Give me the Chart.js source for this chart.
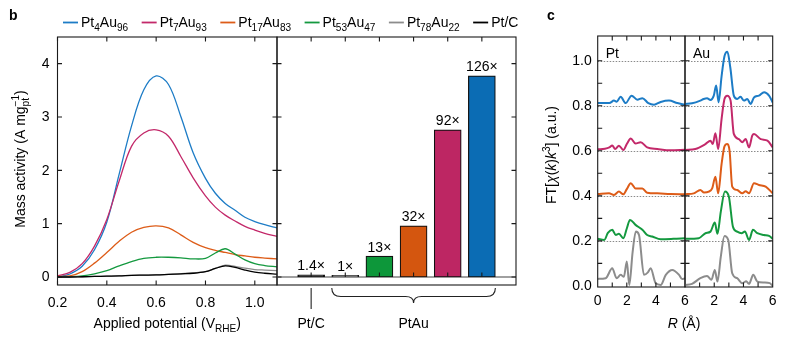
<!DOCTYPE html>
<html>
<head>
<meta charset="utf-8">
<script src="https://cdn.jsdelivr.net/npm/chart.js@4.4.1/dist/chart.umd.min.js"></script>
<style>
  body { margin: 0; background: #fff; }
  #wrap { position: relative; width: 790px; height: 345px; }
  #wrap canvas { position: absolute; left: 0; top: 0; }
</style>
</head>
<body>
<div id="wrap">
  <canvas id="cvMass" width="790" height="345"></canvas>
  <canvas id="cvBars" width="790" height="345"></canvas>
  <canvas id="cvPt" width="790" height="345"></canvas>
  <canvas id="cvAu" width="790" height="345"></canvas>
</div>
<script>
// ---- data ----
const seriesNames = ['Pt4Au96', 'Pt7Au93', 'Pt17Au83', 'Pt53Au47', 'Pt78Au22', 'Pt/C'];
const seriesColors = ['#1d7cc6', '#c3296a', '#dd5c18', '#14993f', '#8c8c8c', '#000000'];

// mass activity vs applied potential (V_RHE)
const potential = [0.2, 0.25, 0.3, 0.35, 0.4, 0.45, 0.5, 0.55, 0.6, 0.65, 0.7, 0.75, 0.8, 0.84, 0.88, 0.92, 0.96, 1.0, 1.04, 1.09];
const massPt4Au96 = [0.0, 0.056, 0.2, 0.51, 1.03, 1.93, 2.83, 3.51, 3.77, 3.61, 3.01, 2.33, 1.85, 1.57, 1.38, 1.25, 1.12, 1.04, 0.98, 0.92];
const massPt7Au93 = [0.02, 0.087, 0.25, 0.58, 1.08, 1.8, 2.45, 2.7, 2.76, 2.64, 2.26, 1.86, 1.52, 1.31, 1.16, 1.05, 0.95, 0.88, 0.82, 0.76];
const massPt17Au83 = [0.01, 0.02, 0.1, 0.26, 0.46, 0.67, 0.84, 0.93, 0.96, 0.92, 0.79, 0.65, 0.55, 0.5, 0.46, 0.42, 0.395, 0.37, 0.355, 0.34];
const massPt53Au47 = [0.0, 0.005, 0.02, 0.06, 0.12, 0.21, 0.29, 0.35, 0.37, 0.37, 0.36, 0.34, 0.35, 0.45, 0.53, 0.43, 0.32, 0.25, 0.215, 0.19];
const massPt78Au22 = [0.0, 0.0, 0.005, 0.01, 0.015, 0.02, 0.03, 0.035, 0.04, 0.05, 0.06, 0.075, 0.1, 0.16, 0.22, 0.2, 0.165, 0.14, 0.13, 0.12];
const massPtC = [0.0, 0.0, 0.005, 0.01, 0.015, 0.02, 0.03, 0.035, 0.04, 0.05, 0.06, 0.07, 0.1, 0.16, 0.21, 0.18, 0.13, 0.09, 0.07, 0.055];
const potentialTicks = [0.2, 0.4, 0.6, 0.8, 1.0];
const activityTicks = [0, 1, 2, 3, 4];

// peak mass activity per catalyst and enhancement factors
const barOrder = ['Pt/C', 'Pt78Au22', 'Pt53Au47', 'Pt17Au83', 'Pt7Au93', 'Pt4Au96'];
const barValues = [0.042, 0.03, 0.39, 0.96, 2.76, 3.77];
const barLabels = ['1.4×', '1×', '13×', '32×', '92×', '126×'];
const barColors = ['#000000', '#8c8c8c', '#0d973a', '#d4560f', '#bd2663', '#0b6cb4'];

// Fourier-transformed EXAFS, [R (Å), FT magnitude + offset]
const ptEdgePt4Au96 = [[0, 0.812], [0.8, 0.812], [1.12, 0.823], [1.3, 0.818], [1.58, 0.84], [1.92, 0.812], [2.33, 0.845], [2.72, 0.827], [3.07, 0.834], [3.48, 0.812], [3.87, 0.805], [4.33, 0.817], [4.9, 0.823], [5.47, 0.812], [6.0, 0.805]];
const ptEdgePt7Au93 = [[0, 0.607], [0.5, 0.609], [0.8, 0.615], [1.0, 0.624], [1.2, 0.608], [1.46, 0.623], [1.76, 0.604], [2.0, 0.63], [2.27, 0.655], [2.6, 0.632], [2.95, 0.638], [3.4, 0.615], [4.1, 0.608], [5.0, 0.602], [6.0, 0.605]];
const ptEdgePt17Au83 = [[0, 0.408], [0.78, 0.411], [1.12, 0.404], [1.46, 0.419], [1.76, 0.407], [2.0, 0.43], [2.27, 0.456], [2.6, 0.433], [3.07, 0.433], [3.4, 0.414], [4.1, 0.411], [5.0, 0.408], [6.0, 0.407]];
const ptEdgePt53Au47 = [[0, 0.209], [0.45, 0.204], [0.7, 0.235], [1.0, 0.249], [1.24, 0.226], [1.46, 0.231], [1.76, 0.212], [2.0, 0.255], [2.22, 0.293], [2.6, 0.271], [3.07, 0.249], [3.4, 0.226], [3.75, 0.219], [4.33, 0.207], [5.2, 0.209], [6.0, 0.212]];
const ptEdgePt78Au22 = [[0, 0.031], [0.55, 0.034], [1.0, 0.078], [1.3, 0.034], [1.58, 0.049], [1.8, 0.04], [2.0, 0.108], [2.17, 0.004], [2.4, 0.15], [2.62, 0.241], [2.84, 0.226], [3.18, 0.049], [3.45, 0.06], [3.64, 0.078], [3.98, 0.012], [4.33, 0.004], [4.68, 0.049], [5.13, 0.071], [5.59, 0.049], [5.8, 0.03], [6.0, 0.034]];

const auEdgePt4Au96 = [[0, 0.808], [0.48, 0.811], [1.05, 0.823], [1.28, 0.83], [1.51, 0.833], [1.74, 0.826], [1.97, 0.845], [2.13, 0.89], [2.3, 0.815], [2.5, 0.93], [2.7, 1.02], [2.9, 1.04], [3.1, 0.97], [3.34, 0.845], [3.57, 0.83], [3.8, 0.84], [4.03, 0.823], [4.26, 0.83], [4.49, 0.808], [4.72, 0.837], [5.06, 0.845], [5.41, 0.86], [5.75, 0.845], [6.0, 0.815]];
const auEdgePt7Au93 = [[0, 0.604], [0.71, 0.608], [1.4, 0.63], [1.74, 0.645], [1.9, 0.63], [2.08, 0.678], [2.27, 0.608], [2.5, 0.74], [2.7, 0.83], [2.89, 0.845], [3.12, 0.823], [3.34, 0.675], [3.69, 0.652], [3.92, 0.638], [4.15, 0.652], [4.38, 0.615], [4.6, 0.667], [4.72, 0.675], [5.18, 0.652], [5.64, 0.645], [6.0, 0.615]];
const auEdgePt17Au83 = [[0, 0.407], [0.6, 0.411], [1.05, 0.426], [1.3, 0.415], [1.63, 0.419], [1.86, 0.433], [2.08, 0.485], [2.27, 0.411], [2.5, 0.54], [2.7, 0.62], [2.87, 0.63], [3.05, 0.6], [3.23, 0.441], [3.57, 0.426], [3.92, 0.411], [4.15, 0.42], [4.38, 0.411], [4.72, 0.456], [5.06, 0.448], [5.52, 0.441], [6.0, 0.411]];
const auEdgePt53Au47 = [[0, 0.209], [0.94, 0.212], [1.4, 0.234], [1.74, 0.241], [2.04, 0.281], [2.22, 0.231], [2.45, 0.33], [2.73, 0.419], [3.0, 0.397], [3.28, 0.263], [3.57, 0.241], [3.87, 0.234], [4.1, 0.241], [4.38, 0.204], [4.65, 0.249], [4.95, 0.234], [5.4, 0.226], [5.75, 0.222], [6.0, 0.209]];
const auEdgePt78Au22 = [[0, 0.004], [0.48, 0.009], [1.05, 0.034], [1.51, 0.044], [1.81, 0.027], [2.04, 0.071], [2.22, 0.019], [2.45, 0.13], [2.7, 0.222], [2.96, 0.204], [3.23, 0.056], [3.57, 0.034], [3.92, 0.012], [4.19, 0.02], [4.38, 0.009], [4.67, 0.049], [4.95, 0.019], [5.4, 0.015], [5.8, 0.012], [6.0, 0.0]];

const ftLevels = [0.2, 0.4, 0.6, 0.8, 1.0];
const ftTicks = [0.1, 0.2, 0.3, 0.4, 0.5, 0.6, 0.7, 0.8, 0.9, 1.0];
const ftLabels = ['0.0', '0.2', '0.4', '0.6', '0.8', '1.0'];
const distTicks = [1, 2, 3, 4, 5];

// ---- layout ----
const W = 790, H = 345;
const FONT = '"Liberation Sans", Arial, Helvetica, sans-serif';
const AXIS = '#1a1a1a';
const TICK = 4.5;
const FS = 14;
const boxMass = [57.5, 37, 277, 285];
const boxBars = [277, 37, 516, 285];
const boxPt = [597.7, 36, 685, 287];
const boxAu = [685, 36, 772.7, 287];

Chart.defaults.font.family = FONT;

function pad(b) {
    return { left: b[0], top: b[1], right: W - b[2], bottom: H - b[3] };
}

// "Pt4Au96" -> text parts with subscripted digits
function formulaParts(s) {
    return s.match(/\d+|\D+/g).map(t => /\d/.test(t) ? [t, 'sub'] : [t]);
}

function fontFor(style, size) {
    const small = style === 'sub' || style === 'sup' || style === 'sub0';
    const sz = small ? size * 0.72 : size;
    const it = style === 'i' ? 'italic ' : '';
    return `${it}${sz}px ${FONT}`;
}

function richWidth(ctx, parts, size) {
    let w = 0;
    parts.forEach(([t, st]) => {
        ctx.font = fontFor(st, size);
        if (st !== 'sub0') w += ctx.measureText(t).width;
    });
    return w;
}

// draws text runs with sub/superscripts; y is the baseline
function drawRich(ctx, parts, x, y, size, align) {
    const w = richWidth(ctx, parts, size);
    let cx = align === 'center' ? x - w / 2 : align === 'right' ? x - w : x;
    ctx.textAlign = 'left';
    ctx.textBaseline = 'alphabetic';
    parts.forEach(([t, st]) => {
        ctx.font = fontFor(st, size);
        let dy = 0;
        if (st === 'sub' || st === 'sub0') dy = size * 0.3;
        if (st === 'sup') dy = -size * 0.4;
        ctx.fillText(t, cx, y + dy);
        if (st !== 'sub0') cx += ctx.measureText(t).width;
    });
}

function drawRotated(ctx, parts, x, y, size) {
    ctx.save();
    ctx.translate(x, y);
    ctx.rotate(-Math.PI / 2);
    drawRich(ctx, parts, 0, 0, size, 'center');
    ctx.restore();
}

function strokeFrame(ctx, a) {
    ctx.strokeStyle = AXIS;
    ctx.lineWidth = 1.1;
    ctx.strokeRect(a.left, a.top, a.right - a.left, a.bottom - a.top);
}

function baseOptions(box, xScale, yScale) {
    return {
        responsive: false,
        animation: false,
        events: [],
        layout: { padding: pad(box) },
        plugins: { legend: { display: false }, tooltip: { enabled: false } },
        scales: {
            x: Object.assign({ display: false }, xScale),
            y: Object.assign({ display: false }, yScale)
        }
    };
}

// ---- panel b, left: mass activity curves ----
const massSeries = [massPt4Au96, massPt7Au93, massPt17Au83, massPt53Au47, massPt78Au22, massPtC];

const massDecor = {
    id: 'massDecor',
    afterDraw(chart) {
        const { ctx, chartArea: a, scales: { x, y } } = chart;
        ctx.save();
        strokeFrame(ctx, a);
        ctx.beginPath();
        potentialTicks.forEach(v => {
            const px = x.getPixelForValue(v);
            ctx.moveTo(px, a.top); ctx.lineTo(px, a.top + TICK);
            ctx.moveTo(px, a.bottom); ctx.lineTo(px, a.bottom - TICK);
        });
        activityTicks.forEach(v => {
            const py = y.getPixelForValue(v);
            ctx.moveTo(a.left, py); ctx.lineTo(a.left + TICK, py);
            ctx.moveTo(a.right, py); ctx.lineTo(a.right - TICK, py);
        });
        ctx.stroke();

        ctx.fillStyle = '#000';
        ctx.font = `${FS}px ${FONT}`;
        ctx.textAlign = 'right';
        ctx.textBaseline = 'middle';
        activityTicks.forEach(v => ctx.fillText(String(v), a.left - 8, y.getPixelForValue(v) + 0.5));
        ctx.textAlign = 'center';
        ctx.textBaseline = 'alphabetic';
        potentialTicks.forEach(v => ctx.fillText(v.toFixed(1), x.getPixelForValue(v), 307));

        drawRich(ctx, [['Applied potential (V'], ['RHE', 'sub'], [')']], (a.left + a.right) / 2, 328, FS, 'center');
        drawRotated(ctx, [['Mass activity (A mg'], ['pt', 'sub0'], ['\u22121', 'sup'], [')']], 25, 159, FS);

        // panel letter and legend
        ctx.font = `bold ${FS}px ${FONT}`;
        ctx.textAlign = 'left';
        ctx.fillText('b', 9, 20);
        let lx = 63;
        seriesNames.forEach((name, i) => {
            ctx.strokeStyle = seriesColors[i];
            ctx.lineWidth = 1.8;
            ctx.beginPath();
            ctx.moveTo(lx, 22.5); ctx.lineTo(lx + 15, 22.5);
            ctx.stroke();
            const parts = formulaParts(name);
            ctx.fillStyle = '#000';
            drawRich(ctx, parts, lx + 18, 27, FS, 'left');
            lx += 18 + richWidth(ctx, parts, FS) + 13.5;
        });
        ctx.restore();
    }
};

new Chart(document.getElementById('cvMass'), {
    type: 'line',
    data: {
        datasets: massSeries.map((vals, i) => ({
            label: seriesNames[i],
            data: potential.map((p, k) => ({ x: p, y: vals[k] })),
            borderColor: seriesColors[i],
            borderWidth: 1.3,
            pointRadius: 0,
            tension: 0.35,
            fill: false
        })).reverse()
    },
    options: baseOptions(boxMass, { type: 'linear', min: 0.2, max: 1.09 }, { min: -0.15, max: 4.5 }),
    plugins: [massDecor]
});

// ---- panel b, right: peak activity bars ----
const barsDecor = {
    id: 'barsDecor',
    beforeDatasetsDraw(chart) {
        const { ctx, chartArea: a, scales: { y } } = chart;
        const y0 = y.getPixelForValue(0);
        ctx.save();
        ctx.strokeStyle = '#a0a0a0';
        ctx.lineWidth = 2;
        ctx.beginPath();
        ctx.moveTo(a.left, y0); ctx.lineTo(a.right, y0);
        ctx.stroke();
        ctx.restore();
    },
    afterDraw(chart) {
        const { ctx, chartArea: a, scales: { x, y } } = chart;
        const meta = chart.getDatasetMeta(0);
        const y0 = y.getPixelForValue(0);
        ctx.save();
        strokeFrame(ctx, a);
        ctx.beginPath();
        activityTicks.forEach(v => {
            const py = y.getPixelForValue(v);
            ctx.moveTo(a.left, py); ctx.lineTo(a.left + TICK, py);
            ctx.moveTo(a.right, py); ctx.lineTo(a.right - TICK, py);
        });
        barOrder.forEach((_, i) => {
            const px = x.getPixelForValue(i + 1);
            ctx.moveTo(px, a.top); ctx.lineTo(px, a.top + TICK);
            ctx.moveTo(px, y0); ctx.lineTo(px, y0 - TICK);
        });
        ctx.stroke();

        // enhancement factor above each bar
        ctx.fillStyle = '#000';
        ctx.font = `${FS}px ${FONT}`;
        ctx.textAlign = 'center';
        ctx.textBaseline = 'alphabetic';
        barLabels.forEach((t, i) => {
            const el = meta.data[i + 1];
            ctx.fillText(t, el.x, el.y - 4.5);
        });

        // group markers below the axis
        const xc = x.getPixelForValue(1);
        ctx.strokeStyle = '#222';
        ctx.lineWidth = 1.1;
        ctx.beginPath();
        ctx.moveTo(xc, a.bottom + 3); ctx.lineTo(xc, a.bottom + 24);
        const half = meta.data[2].width / 2;
        const xl = meta.data[2].x - half, xr = meta.data[6].x + half;
        const xm = x.getPixelForValue(4);
        const top = a.bottom + 3, mid = a.bottom + 11.5, tip = a.bottom + 18;
        ctx.moveTo(xl, top);
        ctx.quadraticCurveTo(xl, mid, xl + 9, mid);
        ctx.lineTo(xm - 8, mid);
        ctx.quadraticCurveTo(xm, mid, xm, tip);
        ctx.quadraticCurveTo(xm, mid, xm + 8, mid);
        ctx.lineTo(xr - 9, mid);
        ctx.quadraticCurveTo(xr, mid, xr, top);
        ctx.stroke();
        ctx.fillText('Pt/C', xc, 328);
        ctx.fillText('PtAu', xm, 328);
        ctx.restore();
    }
};

new Chart(document.getElementById('cvBars'), {
    type: 'bar',
    data: {
        labels: ['', ...barOrder, ''],
        datasets: [{
            data: [null, ...barValues, null],
            backgroundColor: ['#fff', ...barColors, '#fff'],
            borderColor: '#111',
            borderWidth: 1.2,
            borderSkipped: false,
            barThickness: 27
        }]
    },
    options: baseOptions(boxBars, { type: 'category', offset: false }, { min: -0.15, max: 4.5 }),
    plugins: [barsDecor]
});

// ---- panel c: EXAFS at Pt and Au edges ----
function exafsDecor(isPt, tag, xLabels) {
    return {
        id: 'exafs' + tag,
        beforeDatasetsDraw(chart) {
            const { ctx, chartArea: a, scales: { y } } = chart;
            ctx.save();
            ctx.strokeStyle = '#8a8a8a';
            ctx.lineWidth = 1;
            ctx.setLineDash([1.5, 1.5]);
            ctx.beginPath();
            ftLevels.forEach(v => {
                const py = Math.round(y.getPixelForValue(v)) + 0.5;
                ctx.moveTo(a.left, py); ctx.lineTo(a.right, py);
            });
            ctx.stroke();
            ctx.restore();
        },
        afterDraw(chart) {
            const { ctx, chartArea: a, scales: { x, y } } = chart;
            ctx.save();
            strokeFrame(ctx, a);
            ctx.beginPath();
            ftTicks.forEach(v => {
                const py = y.getPixelForValue(v);
                ctx.moveTo(a.left, py); ctx.lineTo(a.left + TICK, py);
                ctx.moveTo(a.right, py); ctx.lineTo(a.right - TICK, py);
            });
            distTicks.forEach(v => {
                const px = x.getPixelForValue(v);
                ctx.moveTo(px, a.top); ctx.lineTo(px, a.top + TICK);
                ctx.moveTo(px, a.bottom); ctx.lineTo(px, a.bottom - TICK);
            });
            ctx.stroke();

            ctx.fillStyle = '#000';
            ctx.font = `${FS}px ${FONT}`;
            ctx.textAlign = 'center';
            ctx.textBaseline = 'alphabetic';
            xLabels.forEach(v => ctx.fillText(String(v), x.getPixelForValue(v), 305));
            ctx.textAlign = 'left';
            ctx.fillText(tag, a.left + 8, 58);

            if (isPt) {
                ctx.textAlign = 'right';
                ctx.textBaseline = 'middle';
                ftLabels.forEach(t => ctx.fillText(t, a.left - 6, y.getPixelForValue(parseFloat(t)) + 0.5));
                drawRotated(ctx, [['FT['], ['\u03c7', 'i'], ['('], ['k', 'i'], [')'], ['k', 'i'], ['3', 'sup'], ['] (a.u.)']], 556, 155, FS);
                drawRich(ctx, [['R', 'i'], [' (\u00c5)']], a.right - 1, 328, FS, 'center');
                ctx.font = `bold ${FS}px ${FONT}`;
                ctx.textAlign = 'left';
                ctx.textBaseline = 'alphabetic';
                ctx.fillText('c', 547, 20);
            }
            ctx.restore();
        }
    };
}

function exafsChart(id, box, curves, isPt, tag, xLabels) {
    new Chart(document.getElementById(id), {
        type: 'line',
        data: {
            datasets: curves.map((pts, i) => ({
                label: seriesNames[i],
                data: pts.map(p => ({ x: p[0], y: p[1] })),
                borderColor: seriesColors[i],
                borderWidth: 2,
                pointRadius: 0,
                cubicInterpolationMode: 'monotone',
                fill: false
            })).reverse()
        },
        options: baseOptions(box, { type: 'linear', min: 0, max: 6 }, { min: -0.005, max: 1.11 }),
        plugins: [exafsDecor(isPt, tag, xLabels)]
    });
}

exafsChart('cvPt', boxPt, [ptEdgePt4Au96, ptEdgePt7Au93, ptEdgePt17Au83, ptEdgePt53Au47, ptEdgePt78Au22], true, 'Pt', [0, 2, 4, 6]);
exafsChart('cvAu', boxAu, [auEdgePt4Au96, auEdgePt7Au93, auEdgePt17Au83, auEdgePt53Au47, auEdgePt78Au22], false, 'Au', [2, 4, 6]);
</script>
</body>
</html>
